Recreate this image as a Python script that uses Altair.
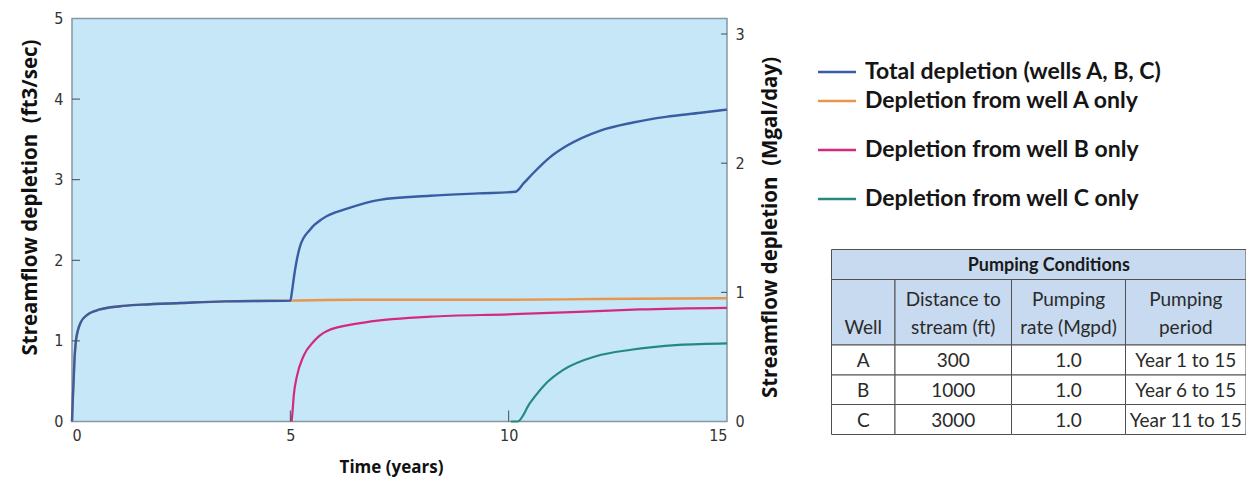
import altair as alt
import pandas as pd

# ---------------- data ----------------
SERIES = [
    "Total depletion (wells A, B, C)",
    "Depletion from well A only",
    "Depletion from well B only",
    "Depletion from well C only",
]
COLORS = ["#3a5ca3", "#e8964e", "#d42a7e", "#25897f"]

# time (years) / streamflow depletion (ft3/sec)
T_A = [0, 0.02, 0.04, 0.06, 0.09, 0.13, 0.2, 0.34, 0.64, 1.1, 1.6, 2.5, 3.5, 5.0, 6.5, 8.0, 10.0, 12.0, 15.0]
V_A = [0, 0.30, 0.55, 0.80, 1.00, 1.12, 1.23, 1.32, 1.39, 1.43, 1.45, 1.47, 1.49, 1.50, 1.51, 1.51, 1.51, 1.52, 1.53]

T_TOT = T_A[:14] + [5.04, 5.08, 5.13, 5.22, 5.45, 5.75, 6.3, 7.05, 8.2, 9.3, 10.15,
                     10.35, 10.56, 10.95, 11.33, 12.1, 12.85, 13.6, 14.4, 15.0]
V_TOT = V_A[:14] + [1.62, 1.78, 1.95, 2.17, 2.38, 2.52, 2.64, 2.75, 2.80, 2.83, 2.85,
                     2.96, 3.08, 3.28, 3.42, 3.61, 3.71, 3.78, 3.83, 3.87]

T_B = [5.03, 5.05, 5.08, 5.15, 5.3, 5.53, 5.83, 6.6, 8.2, 10.0, 11.6, 13.0, 15.0]
V_B = [0, 0.12, 0.33, 0.56, 0.81, 0.99, 1.12, 1.22, 1.30, 1.33, 1.36, 1.39, 1.41]

T_C = [10.05, 10.2, 10.49, 10.87, 11.25, 12.0, 12.8, 13.9, 15.0]
V_C = [0, 0, 0.23, 0.48, 0.64, 0.81, 0.89, 0.95, 0.97]

X_TICKS = [0, 5, 10, 15]
Y_TICKS = [0, 1, 2, 3, 4, 5]
Y2_TICKS = [0, 1, 2, 3]

X_TITLE = "Time (years)"
Y_TITLE = "Streamflow depletion\u00a0\u00a0(ft3/sec)"
Y2_TITLE = "Streamflow depletion\u00a0\u00a0(Mgal/day)"

TABLE_TITLE = "Pumping Conditions"
TABLE_HEADERS = ["\nWell", "Distance to\nstream (ft)", "Pumping\nrate (Mgpd)", "Pumping\nperiod"]
WELLS = ["A", "B", "C"]
DISTANCE = ["300", "1000", "3000"]
RATE = ["1.0", "1.0", "1.0"]
PERIOD = ["Year 1 to 15", "Year 6 to 15", "Year 11 to 15"]

# ---------------- layout / style ----------------
PAGE_W, PAGE_H = 1246, 483
OX, OY = 72, 18.5          # plot origin on the page
W, H = 655, 403            # plot area
Y2_MAX = 3.12              # right axis (Mgal/day) top

NUM_FONT = "Liberation Sans Narrow, DejaVu Sans Condensed, Roboto, sans-serif"
TITLE_FONT = "Open Sans, Noto Sans, sans-serif"
LEG_FONT = "Lato, Open Sans, sans-serif"
TAB_FONT = "Lato, Open Sans, sans-serif"
FRAME = "#8696a3"
TICK_C = "#4a4a4a"

LEG_Y = [72, 101, 150, 199]
LEG_X0, LEG_X1, LEG_XT = 818, 856, 865

COL_EDGES = [831.5, 895, 1011.5, 1125.5, 1246]
ROW_EDGES = [249.5, 279.5, 345, 375, 404.5, 434.5]
HEADER_FIRST_LINE_Y = 300
HEADER_FILL = "#c7daf0"

xs = alt.Scale(domain=[0, 15], nice=False, zero=False)
ys = alt.Scale(domain=[0, 5], nice=False, zero=True)
y2s = alt.Scale(domain=[0, Y2_MAX], nice=False, zero=True)

x_axis = alt.Axis(values=X_TICKS, title=X_TITLE, ticks=False, domain=False, grid=False,
                  labelFont=NUM_FONT, labelFontSize=16, labelColor="#333333", labelPadding=6,
                  titleFont=TITLE_FONT, titleFontSize=17, titleFontWeight="bold", titleColor="#111111",
                  titleX=391 - OX, titleY=467 - (OY + H), titleBaseline="middle")
y_axis = alt.Axis(values=Y_TICKS, title=Y_TITLE, ticks=False, domain=False, grid=False,
                  labelFont=NUM_FONT, labelFontSize=16, labelColor="#333333", labelPadding=9,
                  titleFont=TITLE_FONT, titleFontSize=20.5, titleFontWeight="bold", titleColor="#111111",
                  titleAngle=270, titleX=30 - OX, titleY=197 - OY, titleBaseline="middle")
y2_axis = alt.Axis(values=Y2_TICKS, title=Y2_TITLE, orient="right", ticks=False, domain=False, grid=False,
                   labelFont=NUM_FONT, labelFontSize=16, labelColor="#333333", labelPadding=8,
                   titleFont=TITLE_FONT, titleFontSize=20.5, titleFontWeight="bold", titleColor="#111111",
                   titleAngle=270, titleX=770 - (OX + W), titleY=227 - OY, titleBaseline="middle")

# ---------------- main plot ----------------
def line_layer(t, v, color, sw):
    df = pd.DataFrame({"t": t, "v": v})
    return alt.Chart(df).mark_line(color=color, strokeWidth=sw, interpolate="monotone").encode(
        x=alt.X("t:Q", scale=xs, axis=x_axis),
        y=alt.Y("v:Q", scale=ys, axis=y_axis),
    )

lines = [
    line_layer(T_C, V_C, COLORS[3], 2.2),
    line_layer(T_B, V_B, COLORS[2], 2.2),
    line_layer(T_A, V_A, COLORS[1], 2.4),
    line_layer(T_TOT, V_TOT, COLORS[0], 2.4),
]

bottom_ticks = alt.Chart(pd.DataFrame({"t": X_TICKS[1:-1]})).mark_rule(color=TICK_C, strokeWidth=1).encode(
    x=alt.X("t:Q", scale=xs, axis=x_axis), y=alt.value(H - 11), y2=alt.value(H))
left_ticks = alt.Chart(pd.DataFrame({"v": Y_TICKS[1:-1]})).mark_rule(color=TICK_C, strokeWidth=1).encode(
    y=alt.Y("v:Q", scale=ys, axis=y_axis), x=alt.value(0), x2=alt.value(8))

main = alt.layer(*lines, bottom_ticks, left_ticks)

right = alt.Chart(pd.DataFrame({"m": Y2_TICKS[1:]})).mark_rule(color=TICK_C, strokeWidth=1).encode(
    y=alt.Y("m:Q", scale=y2s, axis=y2_axis), x=alt.value(W - 6), x2=alt.value(W))

# ---------------- legend + table (page coordinates) ----------------
px = alt.Scale(domain=[0, PAGE_W], range=[-OX, PAGE_W - OX], nice=False, zero=False)
py = alt.Scale(domain=[0, PAGE_H], range=[-OY, PAGE_H - OY], nice=False, zero=False)

leg_df = pd.DataFrame({"name": SERIES, "color": COLORS, "y": LEG_Y,
                       "x0": LEG_X0, "x1": LEG_X1, "xt": LEG_XT})
leg_lines = alt.Chart(leg_df).mark_rule(strokeWidth=2.5).encode(
    x=alt.X("x0:Q", scale=px, axis=None), x2="x1:Q",
    y=alt.Y("y:Q", scale=py, axis=None),
    color=alt.Color("color:N", scale=None, legend=None))
leg_text = alt.Chart(leg_df).mark_text(align="left", baseline="middle", font=LEG_FONT,
                                       fontSize=23, fontWeight="bold", color="#151515").encode(
    x=alt.X("xt:Q", scale=px, axis=None), y=alt.Y("y:Q", scale=py, axis=None), text="name:N")

# cells
cells = []
cells.append(dict(x=COL_EDGES[0], x2=COL_EDGES[-1], y=ROW_EDGES[0], y2=ROW_EDGES[1], fill=HEADER_FILL))
for r in range(1, 5):
    for c in range(4):
        cells.append(dict(x=COL_EDGES[c], x2=COL_EDGES[c + 1], y=ROW_EDGES[r], y2=ROW_EDGES[r + 1],
                          fill=HEADER_FILL if r == 1 else "#ffffff"))
cell_df = pd.DataFrame(cells)
table_rects = alt.Chart(cell_df).mark_rect(stroke="#505050", strokeWidth=1).encode(
    x=alt.X("x:Q", scale=px, axis=None), x2="x2:Q",
    y=alt.Y("y:Q", scale=py, axis=None), y2="y2:Q",
    fill=alt.Color("fill:N", scale=None, legend=None))

col_mid = [(COL_EDGES[i] + COL_EDGES[i + 1]) / 2 for i in range(4)]
row_mid = [(ROW_EDGES[i] + ROW_EDGES[i + 1]) / 2 for i in range(5)]

title_df = pd.DataFrame({"x": [(COL_EDGES[0] + COL_EDGES[-1]) / 2 + 10], "y": [row_mid[0] + 1],
                         "label": [TABLE_TITLE]})
table_title = alt.Chart(title_df).mark_text(font=TAB_FONT, fontSize=18, fontWeight="bold",
                                            color="#1a1a1a", baseline="middle").encode(
    x=alt.X("x:Q", scale=px, axis=None), y=alt.Y("y:Q", scale=py, axis=None), text="label:N")

txt = []
for c in range(4):
    txt.append(dict(x=col_mid[c], y=HEADER_FIRST_LINE_Y, label=TABLE_HEADERS[c]))
for r, vals in enumerate(zip(WELLS, DISTANCE, RATE, PERIOD)):
    for c in range(4):
        txt.append(dict(x=col_mid[c], y=row_mid[r + 2] + 1, label=vals[c]))
txt_df = pd.DataFrame(txt)
table_text = alt.Chart(txt_df).mark_text(font=TAB_FONT, fontSize=19, color="#2a2a2a",
                                         baseline="middle", lineBreak="\n", lineHeight=28).encode(
    x=alt.X("x:Q", scale=px, axis=None), y=alt.Y("y:Q", scale=py, axis=None), text="label:N")

side = alt.layer(leg_lines, leg_text, table_rects, table_title, table_text)

chart = alt.layer(main, right, side).resolve_scale(
    x="independent", y="independent"
).properties(
    width=W, height=H,
    autosize=alt.AutoSizeParams(type="none"),
    padding={"left": OX, "top": OY, "right": PAGE_W - OX - W, "bottom": PAGE_H - OY - H},
    background="#ffffff",
).configure_view(fill="#c6e7f8", stroke=FRAME, strokeWidth=1.5)

chart.save("out.html", embed_options={"renderer": "svg", "actions": False})
